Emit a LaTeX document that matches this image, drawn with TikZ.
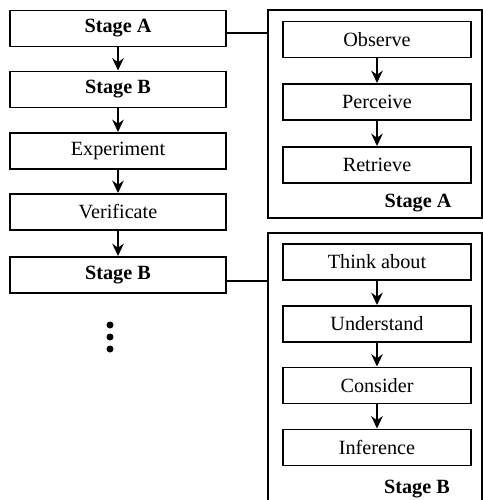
\documentclass[tikz,border=0pt]{standalone}
\usepackage{fontspec}
\setmainfont{Liberation Serif}
\usetikzlibrary{arrows.meta, calc, positioning}
\tikzset{
  % shared looks of the flow boxes and arrows
  every picture/.append style = {line width=0.8pt, >={Stealth[length=7pt, width=6.5pt]}},
  flowbox/.style  = {draw, line width=1.1pt, minimum width=4.32cm, minimum height=0.72cm,
                     inner sep=0pt, font=\fontsize{11.5}{13}\selectfont},
  substep/.style  = {draw, line width=1.1pt, minimum width=3.76cm, minimum height=0.72cm,
                     inner sep=0pt, font=\fontsize{11.5}{13}\selectfont},
  stagebox/.style = {flowbox, font=\fontsize{11.5}{13}\selectfont\bfseries},
  panel/.style    = {draw, line width=0.8pt, minimum width=4.28cm, inner sep=0pt},
  flowarrow/.style= {->, line width=1.3pt},
  link/.style     = {line width=0.8pt},
  panellbl/.style = {font=\fontsize{11.5}{13}\selectfont\bfseries},
}

\begin{document}
\begin{tikzpicture}[x=0.02cm, y=-0.02cm]
  \clip (0,0) rectangle (483,500);
  % main flow on the left
  \node[stagebox] (sa)  at (118,28.5) {Stage A};
  \node[stagebox] (sb)  at (118,89.5) {Stage B};
  \node[flowbox]  (exp) at (118,151)  {Experiment};
  \node[flowbox]  (ver) at (118,212)  {Verificate};
  \node[stagebox] (sb2) at (118,275)  {Stage B};
  \draw[flowarrow] (sa)  -- (sb);
  \draw[flowarrow] (sb)  -- (exp);
  \draw[flowarrow] (exp) -- (ver);
  \draw[flowarrow] (ver) -- (sb2);
  % more stages follow
  \foreach \y in {325,337,349}
    \fill (110,\y) circle (0.07cm);
  % panel for stage A
  \node[panel, minimum height=4.16cm] (pa) at (375,114) {};
  \node[substep] (obs) at (377,39.5) {Observe};
  \node[substep] (per) at (377,102)  {Perceive};
  \node[substep] (ret) at (377,165)  {Retrieve};
  \draw[flowarrow] (obs) -- (per);
  \draw[flowarrow] (per) -- (ret);
  \node[panellbl] (pal) at (418,203) {Stage A};
  \draw[link] ($(sa.east)+(0,4.5)$) -- ($(sa.east -| pa.west)+(0,4.5)$);
  % panel for stage B
  \node[panel, minimum height=5.6cm] (pb) at (375,373) {};
  \node[substep] (thk) at (377,262)   {Think about};
  \node[substep] (und) at (377,324)   {Understand};
  \node[substep] (con) at (377,385.5) {Consider};
  \node[substep] (inf) at (377,447.5) {Inference};
  \draw[flowarrow] (thk) -- (und);
  \draw[flowarrow] (und) -- (con);
  \draw[flowarrow] (con) -- (inf);
  \node[panellbl] (pbl) at (417,489) {Stage B};
  \draw[link] ($(sb2.east)+(0,6)$) -- ($(sb2.east -| pb.west)+(0,6)$);
\end{tikzpicture}
\end{document}
